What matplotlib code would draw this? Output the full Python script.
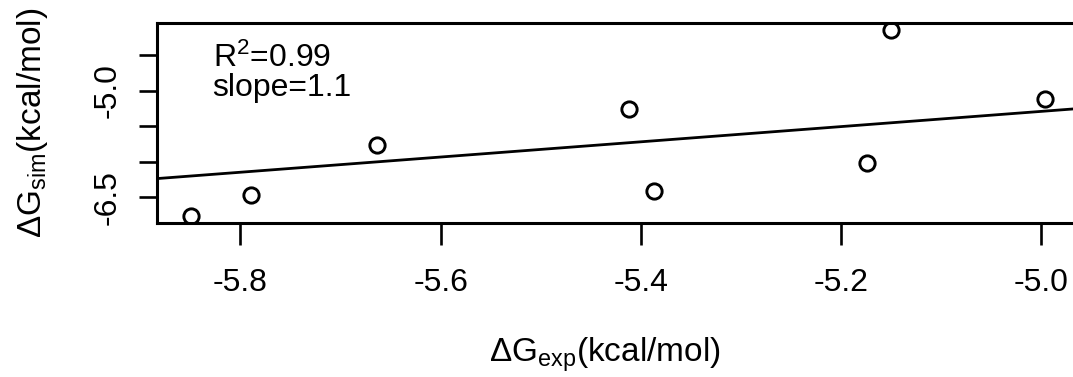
import matplotlib
matplotlib.use("Agg")
import matplotlib.pyplot as plt
import numpy as np

plt.rcParams['font.family'] = ['Liberation Sans', 'DejaVu Sans']
plt.rcParams['mathtext.fontset'] = 'custom'
plt.rcParams['mathtext.rm'] = 'Liberation Sans'
plt.rcParams['mathtext.it'] = 'Liberation Sans:italic'
plt.rcParams['mathtext.bf'] = 'Liberation Sans:bold'

# data
dg_exp = [-5.849, -5.789, -5.664, -5.412, -5.387, -5.174, -5.150, -4.996]
dg_sim = [-6.765, -6.465, -5.758, -5.257, -6.408, -6.015, -4.144, -5.112]
fit_slope = 1.073
fit_intercept = 0.074
x_ticks = [-5.8, -5.6, -5.4, -5.2, -5.0]
y_ticks = [-6.5, -6.0, -5.5, -5.0, -4.5]
y_tick_labels = ['-6.5', '', '', '-5.0', '']
stats_text = 'R$^{2}$=0.99\nslope=1.1'

fig = plt.figure(figsize=(10.73, 3.77), dpi=100)
# right edge of the plot box sits just past the figure edge, like the cropped original
ax = fig.add_axes([0.1466, 0.4077, 0.859, 0.5321])

ax.plot(dg_exp, dg_sim, linestyle='none', marker='o', markersize=11,
        markerfacecolor='none', markeredgecolor='black', markeredgewidth=2.1)
ax.axline((0, fit_intercept), slope=fit_slope, color='black', linewidth=2.0)

# R-style 4% padding around the data
xr = max(dg_exp) - min(dg_exp)
yr = max(dg_sim) - min(dg_sim)
ax.set_xlim(min(dg_exp) - 0.04 * xr, max(dg_exp) + 0.04 * xr)
ax.set_ylim(min(dg_sim) - 0.04 * yr, max(dg_sim) + 0.04 * yr)

ax.set_xticks(x_ticks)
ax.set_xticklabels([f"{t:.1f}" for t in x_ticks])
ax.set_yticks(y_ticks)
ax.set_yticklabels(y_tick_labels, rotation=90, va='center')

for s in ax.spines.values():
    s.set_linewidth(2.2)
ax.tick_params(axis='x', direction='out', length=16, width=1.9, labelsize=23, pad=16)
ax.tick_params(axis='y', direction='out', length=13, width=1.9, labelsize=23, pad=12)

ax.text(0.06, 0.90, stats_text, transform=ax.transAxes, fontsize=23,
        va='top', ha='left', linespacing=0.95)

fig.text(0.564, 0.058, r'ΔG$_{\mathrm{exp}}$(kcal/mol)', fontsize=24, ha='center', va='center')
fig.text(0.03, 0.675, r'ΔG$_{\mathrm{sim}}$(kcal/mol)', fontsize=24, ha='center', va='center',
         rotation=90)

fig.savefig('out.png', dpi=100)
